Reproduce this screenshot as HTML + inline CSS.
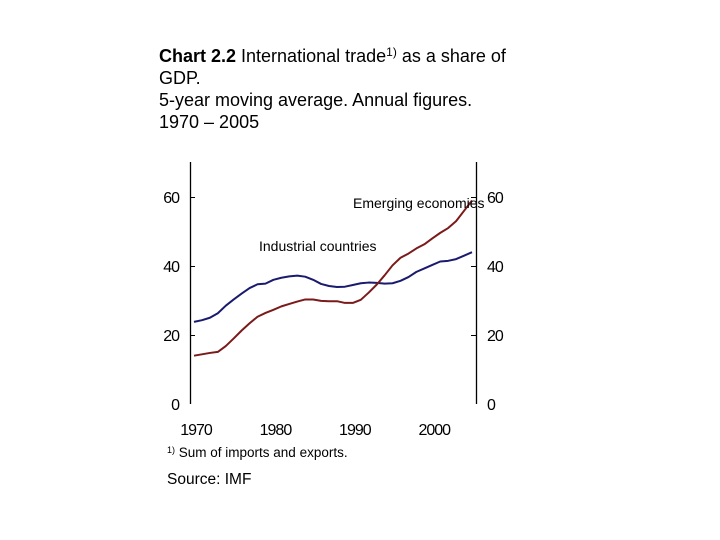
<!DOCTYPE html>
<html><head><meta charset="utf-8"><style>
html,body{margin:0;padding:0;background:#fff;width:720px;height:540px;overflow:hidden}
svg{display:block}
text{font-family:"Liberation Sans",Arial,sans-serif;fill:#000}
</style></head><body>
<svg id="chart" width="720" height="540" viewBox="0 0 720 540">
<g font-size="18">
<text x="159" y="62"><tspan font-weight="bold">Chart 2.2</tspan> International trade<tspan font-size="12" dy="-6">1)</tspan><tspan dy="6"> as a share of</tspan></text>
<text x="159" y="84">GDP.</text>
<text x="159" y="106">5-year moving average. Annual figures.</text>
<text x="159" y="128">1970 – 2005</text>
</g>
<g id="axes"></g>
<g id="series"></g>
<text x="259" y="251" font-size="14">Industrial countries</text>
<text x="353" y="208" font-size="14">Emerging economies</text>
<text x="167" y="457" font-size="13.5"><tspan font-size="9" dy="-4">1)</tspan><tspan dy="4"> Sum of imports and exports.</tspan></text>
<text x="167" y="484" font-size="15.5">Source: IMF</text>
</svg>
<script>
const years=[1970,1971,1972,1973,1974,1975,1976,1977,1978,1979,1980,1981,1982,1983,1984,1985,1986,1987,1988,1989,1990,1991,1992,1993,1994,1995,1996,1997,1998,1999,2000,2001,2002,2003,2004,2005];
const industrial=[23.8,24.3,25,26.3,28.5,30.3,32,33.6,34.7,34.9,36,36.6,37,37.2,36.9,36,34.8,34.2,33.9,34,34.5,35,35.2,35.1,34.9,35,35.7,36.8,38.3,39.3,40.3,41.3,41.5,42,43,44];
const emerging=[14,14.4,14.8,15.1,16.8,19,21.3,23.4,25.3,26.4,27.3,28.3,29,29.7,30.3,30.3,29.9,29.8,29.8,29.3,29.3,30.2,32.3,34.6,37.3,40.2,42.4,43.6,45.1,46.3,48,49.6,51,53,56,59];
const yTicks=[0,20,40,60];
const xTicks=[1970,1980,1990,2000];
const NS='http://www.w3.org/2000/svg';
const X=y=>194+(y-1970)*(472-194)/35;
const Y=v=>404-v*(207/60);
const axes=document.getElementById('axes'),ser=document.getElementById('series');
function mk(tag,attrs,parent){const e=document.createElementNS(NS,tag);for(const k in attrs)e.setAttribute(k,attrs[k]);parent.appendChild(e);return e;}
let l=mk('line',{x1:190.5,y1:162,x2:190.5,y2:404,stroke:'#000','stroke-width':1.3},axes);


l=mk('line',{x1:476.5,y1:162,x2:476.5,y2:404,stroke:'#000','stroke-width':1.3},axes);


yTicks.forEach(v=>{
 const yy=Math.round(Y(v))+0.5;
 if(v>0){mk('line',{x1:190,y1:yy,x2:195,y2:yy,stroke:'#000'},axes);mk('line',{x1:471,y1:yy,x2:477,y2:yy,stroke:'#000'},axes);}
 let t=mk('text',{x:179,y:Y(v)+6,'font-size':16,'text-anchor':'end','letter-spacing':'-1'},axes);t.textContent=v;
 
 
 t=mk('text',{x:487,y:Y(v)+6,'font-size':16,'letter-spacing':'-1'},axes);t.textContent=v;
 
 
});
xTicks.forEach(v=>{
 const t=mk('text',{x:X(v)+2,y:435,'font-size':16,'text-anchor':'middle','letter-spacing':'-1'},axes);t.textContent=v;
 
 
});
function line(vals,color,name){
 const p=mk('polyline',{points:vals.map((v,i)=>X(years[i])+','+Y(v)).join(' '),fill:'none',stroke:color,'stroke-width':2,'stroke-linejoin':'round'},ser);
 
 
}
line(industrial,'#1a1a6e','industrial-countries-line');
line(emerging,'#7a1a1a','emerging-economies-line');
</script>
</body></html>
